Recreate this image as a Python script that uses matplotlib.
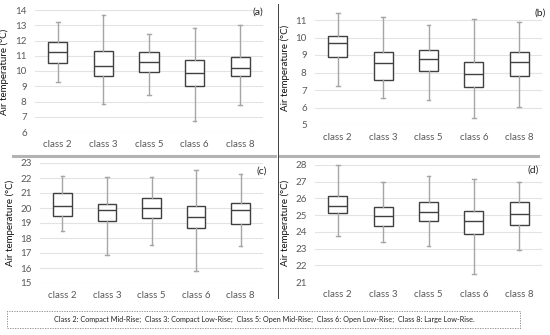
import matplotlib
matplotlib.use("Agg")
import matplotlib.pyplot as plt
from matplotlib.lines import Line2D
from matplotlib.patches import Rectangle

plt.rcParams['font.family'] = ['Lato', 'DejaVu Sans']

W, H = 550, 335

classes = ["class 2", "class 3", "class 5", "class 6", "class 8"]

# whisker low, Q1, median, Q3, whisker high per panel
a_low = [9.25, 7.85, 8.45, 6.75, 7.8]
a_q1 = [10.55, 9.65, 9.95, 9.0, 9.7]
a_med = [11.25, 10.3, 10.6, 9.85, 10.2]
a_q3 = [11.9, 11.3, 11.25, 10.7, 10.95]
a_high = [13.2, 13.65, 12.45, 12.85, 13.0]

b_low = [7.23, 6.56, 6.43, 5.42, 6.03]
b_q1 = [8.9, 7.6, 8.1, 7.19, 7.8]
b_med = [9.67, 8.52, 8.75, 7.9, 8.62]
b_q3 = [10.09, 9.15, 9.29, 8.6, 9.15]
b_high = [11.42, 11.15, 10.71, 11.04, 10.9]

c_low = [18.49, 16.85, 17.53, 15.78, 17.48]
c_q1 = [19.47, 19.16, 19.36, 18.69, 18.91]
c_med = [20.16, 19.87, 19.98, 19.38, 19.87]
c_q3 = [21.03, 20.27, 20.65, 20.1, 20.36]
c_high = [22.1, 22.04, 22.06, 22.55, 22.26]

d_low = [23.74, 23.4, 23.16, 21.46, 22.92]
d_q1 = [25.14, 24.36, 24.64, 23.88, 24.44]
d_med = [25.56, 24.96, 25.16, 24.62, 25.06]
d_q3 = [26.12, 25.46, 25.76, 25.26, 25.78]
d_high = [28.0, 27.0, 27.32, 27.14, 26.96]

note = ("Class 2: Compact Mid-Rise;  Class 3: Compact Low-Rise;  Class 5: Open Mid-Rise;  "
        "Class 6: Open Low-Rise;  Class 8: Large Low-Rise.")

fig = plt.figure(figsize=(W / 100, H / 100), dpi=100)


def px_axes(x0, x1, ytop, ybot):
    return fig.add_axes([x0 / W, 1 - ybot / H, (x1 - x0) / W, (ybot - ytop) / H])


def panel(ax, low, q1, med, q3, high, ylim, ticks, tag, tag_xy, label_xy):
    stats = []
    for i in range(len(classes)):
        stats.append(dict(whislo=low[i], q1=q1[i], med=med[i], q3=q3[i],
                          whishi=high[i], fliers=[], label=classes[i]))
    ax.bxp(stats, widths=0.42, showfliers=False, patch_artist=True,
           boxprops=dict(facecolor="white", edgecolor="#404040", linewidth=1.0),
           medianprops=dict(color="#404040", linewidth=1.0),
           whiskerprops=dict(color="#a6a6a6", linewidth=1.0),
           capprops=dict(color="#a6a6a6", linewidth=1.0),
           capwidths=0.08)
    for art in ax.get_children():
        try:
            art.set_clip_on(False)
        except Exception:
            pass
    ax.set_ylim(*ylim)
    ax.set_yticks(ticks)
    ax.set_xlim(0.5, 5.5)
    ax.grid(axis="y", color="#e3e3e3", linewidth=0.8)
    ax.set_axisbelow(True)
    for s in ax.spines.values():
        s.set_visible(False)
    ax.tick_params(length=0, labelsize=7, labelcolor="#595959", pad=6)
    ax.tick_params(axis="x", pad=6)
    ax.set_ylabel("Air temperature (°C)", fontsize=7, color="#111111")
    ax.yaxis.set_label_coords(label_xy[0] / W, 1 - label_xy[1] / H, transform=fig.transFigure)
    fig.text(tag_xy[0] / W, 1 - tag_xy[1] / H, tag, fontsize=7.5, color="#222222",
             ha="center", va="center")


ax_a = px_axes(35, 263, 10, 132)
panel(ax_a, a_low, a_q1, a_med, a_q3, a_high, (6, 14), range(6, 15), "(a)", (258, 12), (9, 72))

ax_b = px_axes(315, 542, 9.5, 125)
panel(ax_b, b_low, b_q1, b_med, b_q3, b_high, (5, 11.6), range(5, 12), "(b)", (540, 13), (290, 68))

ax_c = px_axes(40, 263, 163, 283)
panel(ax_c, c_low, c_q1, c_med, c_q3, c_high, (15, 23), range(15, 24), "(c)", (262, 171), (15, 223))

ax_d = px_axes(315, 542, 165, 282)
panel(ax_d, d_low, d_q1, d_med, d_q3, d_high, (21, 28), range(21, 29), "(d)", (533, 170), (290, 223))

# separators
fig.add_artist(Line2D([13 / W, 275 / W], [1 - 155.5 / H] * 2, color="#b3b3b3", linewidth=2.2))
fig.add_artist(Line2D([279 / W, 538 / W], [1 - 155.5 / H] * 2, color="#b3b3b3", linewidth=2.2))
fig.add_artist(Line2D([278 / W, 278 / W], [1 - 4 / H, 1 - 298 / H], color="#404040", linewidth=0.7))

# note box
fig.add_artist(Rectangle((7 / W, 1 - 328 / H), 513 / W, 17 / H, fill=False,
                         edgecolor="#808080", linewidth=0.6, linestyle=(0, (1.5, 1.5))))
fig.text(264 / W, 1 - 319.5 / H, note, fontsize=5.2, color="#222222", ha="center", va="center")

fig.savefig("out.png", dpi=100)
